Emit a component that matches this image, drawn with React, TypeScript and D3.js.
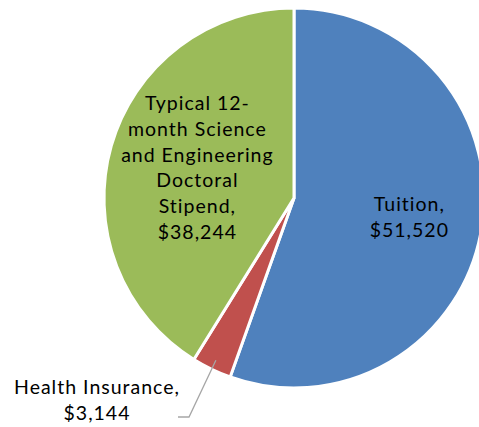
import React from "react";
import * as d3 from "d3";

const categories = ["Tuition", "Health Insurance", "Typical 12-month Science and Engineering Doctoral Stipend"];
const values = [51520, 3144, 38244];
const colors = ["#4F81BD", "#C0504D", "#9BBB59"];
const labelLines = [
  ["Tuition,", "$51,520"],
  ["Health Insurance,", "$3,144"],
  ["Typical 12-", "month Science", "and Engineering", "Doctoral", "Stipend,", "$38,244"],
];

const W = 479;
const H = 427;
const cx = 294;
const cy = 198;
const R = 190;

export default function App() {
  const pie = d3.pie<number>().sort(null).value((d) => d)(values);
  const arc = d3.arc<d3.PieArcDatum<number>>().innerRadius(0).outerRadius(R);
  const labelArc = d3.arc<d3.PieArcDatum<number>>().innerRadius(R * 0.6).outerRadius(R * 0.6);

  const t = labelArc.centroid(pie[0]);
  const s = labelArc.centroid(pie[2]);
  const labelPos: [number, number][] = [
    [t[0] + 3, t[1] + 0],
    [97 - cx, 400 - cy],
    [s[0] + 13, s[1] + 1],
  ];
  const lineH = 25.8;
  const fontStyle = { fontFamily: "Lato, 'Open Sans', sans-serif", fontSize: 19.5, letterSpacing: 1.0 };

  // leader line for Health Insurance
  const hMid = (pie[1].startAngle + pie[1].endAngle) / 2;
  const p0: [number, number] = [Math.sin(hMid) * (R - 10), -Math.cos(hMid) * (R - 10)];
  const p1: [number, number] = [189 - cx, 417 - cy];
  const p2: [number, number] = [178 - cx, 417 - cy];

  return (
    <div style={{ position: "fixed", left: 0, top: 0 }}>
      <svg width={W} height={H} style={{ display: "block", background: "#fff" }}>
        <g transform={`translate(${cx},${cy})`}>
          {pie.map((d, i) => (
            <path key={categories[i]} d={arc(d) || ""} fill={colors[i]} stroke="#fff" strokeWidth={3} />
          ))}
          <polyline
            points={[p0, p1, p2].map((p) => p.join(",")).join(" ")}
            fill="none"
            stroke="#A6A6A6"
            strokeWidth={1.3}
          />
          {labelLines.map((lines, i) => {
            const [x, y] = labelPos[i];
            const y0 = y - ((lines.length - 1) * lineH) / 2;
            return (
              <text key={i} textAnchor="middle" fill="#000" style={fontStyle}>
                {lines.map((ln, j) => (
                  <tspan key={j} x={x} y={y0 + j * lineH} dy="0.35em">
                    {ln}
                  </tspan>
                ))}
              </text>
            );
          })}
        </g>
      </svg>
    </div>
  );
}
